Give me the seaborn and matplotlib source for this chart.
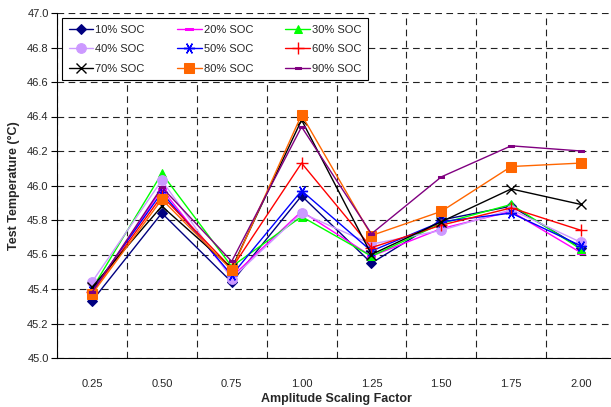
import matplotlib
matplotlib.use("Agg")
import matplotlib.pyplot as plt
import seaborn as sns
import numpy as np

sns.set_theme(style="white")
plt.rcParams['font.family'] = ['Liberation Sans', 'DejaVu Sans']

factors = ["0.25", "0.50", "0.75", "1.00", "1.25", "1.50", "1.75", "2.00"]
labels = ["10% SOC", "20% SOC", "30% SOC", "40% SOC", "50% SOC",
          "60% SOC", "70% SOC", "80% SOC", "90% SOC"]
soc10 = [45.33, 45.84, 45.44, 45.94, 45.55, 45.80, 45.88, 45.64]
soc20 = [45.38, 45.98, 45.47, 45.85, 45.59, 45.75, 45.85, 45.61]
soc30 = [45.40, 46.07, 45.53, 45.82, 45.59, 45.78, 45.89, 45.63]
soc40 = [45.44, 46.03, 45.46, 45.84, 45.66, 45.74, 45.86, 45.67]
soc50 = [45.39, 45.96, 45.48, 45.97, 45.62, 45.79, 45.84, 45.65]
soc60 = [45.38, 45.94, 45.52, 46.13, 45.64, 45.77, 45.87, 45.74]
soc70 = [45.41, 45.88, 45.52, 46.38, 45.60, 45.79, 45.98, 45.89]
soc80 = [45.37, 45.92, 45.51, 46.41, 45.71, 45.85, 46.11, 46.13]
soc90 = [45.38, 45.99, 45.56, 46.34, 45.72, 46.05, 46.23, 46.20]
series = [soc10, soc20, soc30, soc40, soc50, soc60, soc70, soc80, soc90]

rect = [(-1, -0.35), (1, -0.35), (1, 0.35), (-1, 0.35), (-1, -0.35)]
styles = [
    dict(color="#000080", marker="D", ms=5, mfc="#000080", mec="#000080"),
    dict(color="#FF00FF", marker=rect, ms=6, mfc="#FF00FF", mec="#FF00FF"),
    dict(color="#00FF00", marker="^", ms=6, mfc="#00FF00", mec="#00FF00"),
    dict(color="#CC99FF", marker="o", ms=7, mfc="#CC99FF", mec="#CC99FF"),
    dict(color="#0000FF", marker=(6, 2, 30), ms=8, mew=1.0, mec="#0000FF"),
    dict(color="#FF0000", marker="+", ms=8, mew=1.0, mec="#FF0000"),
    dict(color="#000000", marker="x", ms=7, mew=1.0, mec="#000000"),
    dict(color="#FF6600", marker="s", ms=6.5, mfc="#FF6600", mec="#FF6600"),
    dict(color="#800080", marker=rect, ms=5, mfc="#800080", mec="#800080"),
]

fig = plt.figure(figsize=(6.11, 4.07), dpi=100)
ax = fig.add_axes([57/611, 1-358/407, 559/611, 345/407])
x = np.arange(len(factors))
for vals, lab, st in zip(series, labels, styles):
    sns.lineplot(x=x, y=vals, ax=ax, label=lab, linewidth=1.0, **st)

ax.set_xlim(-0.5, 7.5)
ax.set_ylim(45.0, 47.0)
ax.set_yticks(np.arange(45.0, 47.01, 0.2))
ax.set_yticklabels([f"{v:.1f}" for v in np.arange(45.0, 47.01, 0.2)], fontsize=8)
ax.set_xticks(x)
ax.set_xticklabels(factors, fontsize=8)
ax.set_xticks(np.arange(-0.5, 7.51, 1), minor=True)
ax.tick_params(axis='x', which='major', length=0, pad=15)
ax.tick_params(axis='x', which='minor', direction='in', length=4, color='black', width=0.8)
ax.tick_params(axis='y', which='major', direction='out', length=4, color='black', width=0.8, left=True, pad=2)
ax.yaxis.grid(True, color='#222222', linestyle=(0, (6, 4)), linewidth=0.8)
ax.xaxis.grid(True, which='minor', color='#222222', linestyle=(0, (6, 4)), linewidth=0.8)
ax.xaxis.grid(False, which='major')
for s in ['top', 'right']:
    ax.spines[s].set_visible(False)
for s in ['left', 'bottom']:
    ax.spines[s].set_color('black')
    ax.spines[s].set_linewidth(0.8)

ax.set_xlabel("Amplitude Scaling Factor", fontsize=9, fontweight='bold', labelpad=3)
ax.set_ylabel("Test Temperature (°C)", fontsize=9, fontweight='bold', labelpad=5)

handles, labs = ax.get_legend_handles_labels()
order = [0, 3, 6, 1, 4, 7, 2, 5, 8]
leg = ax.legend([handles[i] for i in order], [labs[i] for i in order],
                loc='upper left', bbox_to_anchor=((62-57)/559, (358-18)/345),
                ncol=3, fontsize=8, frameon=True, fancybox=False,
                edgecolor='black', handlelength=2.2, handletextpad=0.2,
                columnspacing=2.9, labelspacing=0.85, borderaxespad=0,
                borderpad=0.6)
leg.get_frame().set_linewidth(0.8)
leg.get_frame().set_facecolor('white')
leg.get_frame().set_alpha(1)

fig.savefig("out.png", dpi=100)
